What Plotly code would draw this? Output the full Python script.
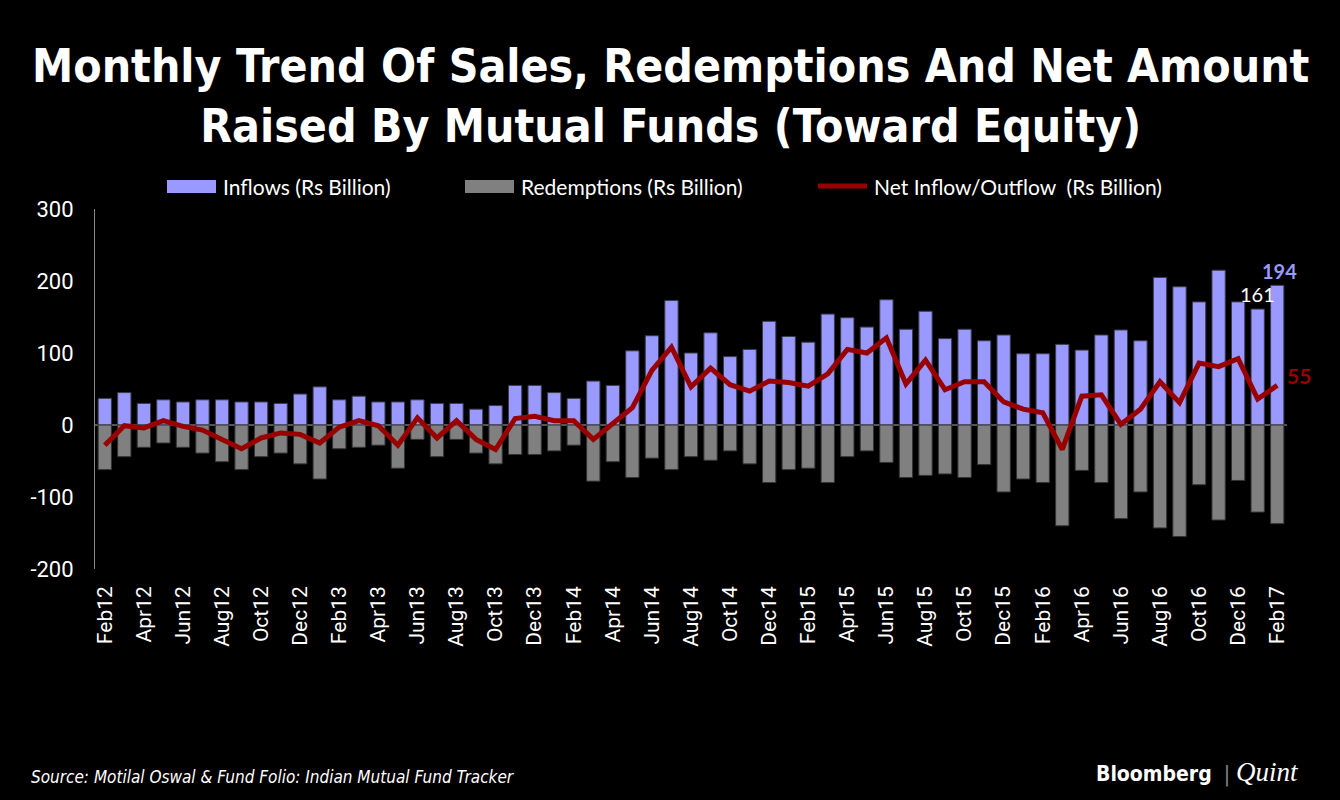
import plotly.graph_objects as go

# monthly data Feb12 .. Feb17 (Rs billion)
months = ['Feb12', 'Mar12', 'Apr12', 'May12', 'Jun12', 'Jul12', 'Aug12', 'Sep12', 'Oct12', 'Nov12', 'Dec12',
          'Jan13', 'Feb13', 'Mar13', 'Apr13', 'May13', 'Jun13', 'Jul13', 'Aug13', 'Sep13', 'Oct13', 'Nov13', 'Dec13',
          'Jan14', 'Feb14', 'Mar14', 'Apr14', 'May14', 'Jun14', 'Jul14', 'Aug14', 'Sep14', 'Oct14', 'Nov14', 'Dec14',
          'Jan15', 'Feb15', 'Mar15', 'Apr15', 'May15', 'Jun15', 'Jul15', 'Aug15', 'Sep15', 'Oct15', 'Nov15', 'Dec15',
          'Jan16', 'Feb16', 'Mar16', 'Apr16', 'May16', 'Jun16', 'Jul16', 'Aug16', 'Sep16', 'Oct16', 'Nov16', 'Dec16',
          'Jan17', 'Feb17']

inflows = [37, 45, 30, 35, 32, 35, 35, 32, 32, 30, 43,
           53, 35, 40, 32, 32, 35, 30, 30, 22, 27, 55, 55,
           45, 37, 61, 55, 103, 124, 173, 100, 128, 95, 105, 144,
           123, 115, 154, 149, 136, 174, 133, 158, 120, 133, 117, 125,
           99, 99, 112, 104, 125, 132, 117, 205, 192, 171, 215, 171,
           161, 194]

redemptions = [-62, -44, -31, -25, -31, -39, -51, -62, -44, -39, -54,
               -75, -33, -31, -28, -60, -20, -44, -20, -39, -54, -41, -41,
               -36, -28, -78, -51, -73, -46, -62, -44, -49, -36, -54, -80,
               -62, -60, -80, -44, -36, -52, -73, -70, -68, -73, -55, -93,
               -75, -80, -140, -63, -80, -130, -93, -143, -155, -83, -132, -77,
               -121, -137]

net = [-28, -1, -4, 6, -2, -7, -20, -33, -18, -11, -13,
       -25, -3, 6, -1, -28, 10, -18, 6, -20, -34, 9, 12,
       6, 6, -20, 2, 24, 76, 108, 53, 79, 56, 47, 61,
       59, 54, 71, 105, 100, 121, 57, 90, 49, 60, 60, 32,
       22, 17, -34, 40, 42, 1, 22, 60, 31, 86, 81, 92,
       36, 55]

tick_months = months[::2]
y_ticks = [-200, -100, 0, 100, 200, 300]
y_tick_text = ['-200', '-100', '0', '100', '200', '300']

series_names = ['Inflows (Rs Billion)', 'Redemptions (Rs Billion)', 'Net Inflow/Outflow  (Rs Billion)']
INFLOW_C = '#9999FF'
REDEM_C = '#808080'
NET_C = '#990000'
COND = 'DejaVu Sans Condensed, Roboto, sans-serif'

fig = go.Figure()
fig.add_trace(go.Bar(x=months, y=inflows, name=series_names[0],
                     marker=dict(color=INFLOW_C, line=dict(color='#3a3a4a', width=1))))
fig.add_trace(go.Bar(x=months, y=redemptions, name=series_names[1],
                     marker=dict(color=REDEM_C, line=dict(color='#333333', width=1))))
fig.add_trace(go.Scatter(x=months, y=net, name=series_names[2], mode='lines',
                         line=dict(color=NET_C, width=5)))

# value labels at the end
fig.add_annotation(x=months[-1], y=inflows[-1], text='<b>194</b>', showarrow=False,
                   xshift=2, yshift=14, font=dict(color=INFLOW_C, size=20, family='Lato'))
fig.add_annotation(x=months[-2], y=inflows[-2], text='161', showarrow=False,
                   xshift=0, yshift=15, font=dict(color='white', size=20, family='Lato'))
fig.add_annotation(x=months[-1], y=net[-1], text='<b>55</b>', showarrow=False,
                   xshift=22, yshift=10, font=dict(color=NET_C, size=21, family='Lato'))

# hand made legend (wide swatches like the original)
legend_x = [72, 370, 723]
for i, (name, c) in enumerate(zip(series_names, [INFLOW_C, REDEM_C, NET_C])):
    if i < 2:
        fig.add_shape(type='rect', xref='paper', yref='paper', xsizemode='pixel', ysizemode='pixel',
                      xanchor=0, yanchor=1, x0=legend_x[i], x1=legend_x[i] + 49, y0=16, y1=29,
                      fillcolor=c, line=dict(width=0))
    else:
        fig.add_shape(type='line', xref='paper', yref='paper', xsizemode='pixel', ysizemode='pixel',
                      xanchor=0, yanchor=1, x0=legend_x[i], x1=legend_x[i] + 49, y0=23, y1=23,
                      line=dict(color=c, width=5))
    fig.add_annotation(xref='paper', yref='paper', x=0, y=1, xshift=legend_x[i] + 54, yshift=23,
                       xanchor='left', yanchor='middle', showarrow=False, text=name,
                       font=dict(family='Lato', size=21, color='white'))

fig.add_annotation(xref='paper', yref='paper', x=(670 - 95) / 1192, y=1.0, yshift=172,
                   text='<b>Monthly Trend Of Sales, Redemptions And Net Amount<br>Raised By Mutual Funds (Toward Equity)</b>',
                   showarrow=False, xanchor='center', yanchor='top',
                   font=dict(family=COND, size=46, color='white'))
fig.add_annotation(xref='paper', yref='paper', x=0, y=0, xshift=-66, yshift=-208,
                   text='<i>Source: Motilal Oswal & Fund Folio: Indian Mutual Fund Tracker</i>',
                   showarrow=False, xanchor='left', yanchor='middle',
                   font=dict(family=COND, size=17, color='white'))
fig.add_annotation(xref='paper', yref='paper', x=1, y=0, xshift=14, yshift=-203,
                   text='<b>Bloomberg</b>  <span style="color:#888888">|</span> '
                        '<span style="font-family:Liberation Serif;font-size:27px"><i>Quint</i></span>',
                   showarrow=False, xanchor='right', yanchor='middle',
                   font=dict(family=COND, size=21, color='white'))

fig.update_layout(
    width=1340, height=800,
    paper_bgcolor='black', plot_bgcolor='black',
    barmode='relative', bargap=0.32,
    margin=dict(l=95, r=53, t=209, b=231),
    showlegend=False,
    font=dict(family='Roboto', color='white'),
)
fig.update_xaxes(type='category', range=[-0.5, len(months) - 0.5],
                 tickmode='array', tickvals=tick_months, ticktext=tick_months,
                 tickangle=-90, tickfont=dict(size=21, family='Roboto', color='white'),
                 showgrid=False, showline=False, ticks='', ticklabelstandoff=12)
fig.update_yaxes(range=[-200, 300], tickvals=y_ticks, ticktext=y_tick_text,
                 tickfont=dict(size=22, family='Roboto', color='white'),
                 showgrid=False, showline=True, linecolor='#888888', linewidth=1,
                 zeroline=True, zerolinecolor='#555555', zerolinewidth=1.5, ticks='', ticklabelstandoff=16)

fig.write_html('out.html', config={'displayModeBar': False},
               post_script="document.body.style.margin='0';document.body.style.background='black';")
